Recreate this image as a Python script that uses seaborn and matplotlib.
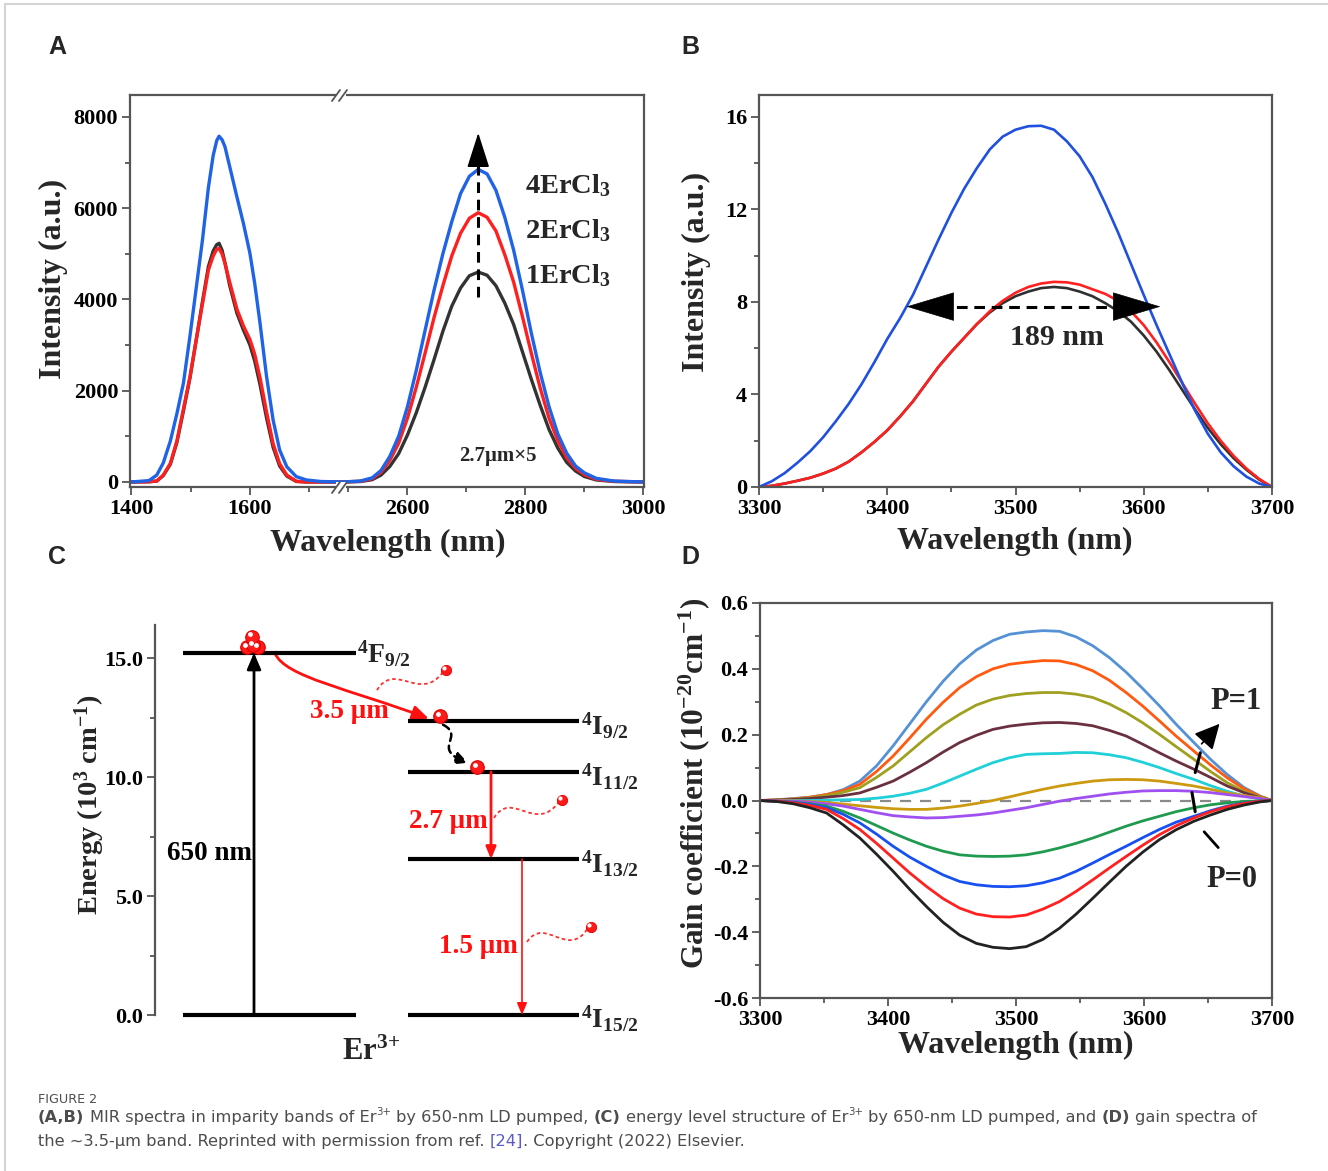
import numpy as np
import pandas as pd
import matplotlib
matplotlib.use('Agg')
import matplotlib.pyplot as plt
import seaborn as sns
from matplotlib.path import Path
from matplotlib.patches import FancyArrowPatch, PathPatch, Rectangle
from matplotlib.lines import Line2D
from matplotlib.ticker import MultipleLocator, FormatStrFormatter
from matplotlib.font_manager import FontProperties, findfont

# ---------------- data ----------------
# Panel A, 1.5 um band
wl_15 = [1400, 1430, 1443, 1454, 1466, 1477, 1488, 1499, 1510, 1520, 1530, 1538, 1544, 1548, 1553,
         1558, 1566, 1578, 1589, 1600, 1608, 1617, 1628, 1639, 1650, 1662, 1678, 1695, 1720, 1756]
a15_black = [0, 5, 20, 140, 390, 870, 1560, 2280, 3150, 3950, 4720, 5060, 5200, 5230, 5080,
             4800, 4300, 3700, 3330, 3000, 2650, 2130, 1400, 760, 350, 130, 12, 0, 0, 0]
a15_red = [0, 5, 20, 150, 409, 900, 1600, 2306, 3150, 3900, 4643, 4950, 5100, 5117, 5000,
           4789, 4370, 3790, 3420, 3120, 2800, 2280, 1530, 840, 400, 153, 15, 0, 0, 0]
a15_blue = [0, 30, 150, 416, 900, 1500, 2168, 3200, 4300, 5300, 6450, 7150, 7480, 7577, 7500,
            7343, 6905, 6248, 5665, 5008, 4351, 3475, 2306, 1358, 701, 335, 117, 44, 10, 0]
# Panel A, 2.7 um band
wl_27 = [2489, 2520, 2540, 2555, 2570, 2585, 2600, 2615, 2630, 2645, 2660, 2675, 2690, 2705, 2720,
         2735, 2750, 2765, 2780, 2795, 2810, 2825, 2840, 2855, 2870, 2885, 2900, 2920, 2950, 3001]
a27_black = [0, 10, 50, 150, 340, 620, 1030, 1520, 2080, 2680, 3300, 3850, 4250, 4520, 4600,
             4530, 4300, 3920, 3450, 2850, 2250, 1680, 1150, 740, 430, 240, 120, 45, 10, 0]
a27_red = [0, 15, 70, 210, 470, 850, 1400, 2080, 2830, 3600, 4300, 4950, 5450, 5780, 5900,
           5800, 5500, 4980, 4380, 3620, 2820, 2060, 1400, 900, 530, 300, 160, 60, 15, 0]
a27_blue = [0, 20, 90, 250, 560, 1000, 1650, 2450, 3330, 4200, 5000, 5700, 6320, 6700, 6850,
            6750, 6390, 5800, 5080, 4200, 3260, 2400, 1650, 1050, 630, 350, 200, 80, 20, 0]
samples_A = ['1ErCl3', '2ErCl3', '4ErCl3']
colors_A = ['#333333', '#ff1f1f', '#1f63e6']
labels_A = ['4ErCl$_3$', '2ErCl$_3$', '1ErCl$_3$']

# Panel B
wl_B = [3300, 3310, 3320, 3330, 3340, 3350, 3360, 3370, 3380, 3390, 3400, 3410, 3420, 3430,
        3440, 3450, 3460, 3470, 3480, 3490, 3500, 3510, 3520, 3530, 3540, 3550, 3560, 3570,
        3580, 3590, 3600, 3610, 3620, 3630, 3640, 3650, 3660, 3670, 3680, 3690, 3700]
b_black = [0, 0.05, 0.15, 0.27, 0.4, 0.58, 0.8, 1.1, 1.5, 1.95, 2.45, 3.05, 3.7, 4.45,
           5.2, 5.85, 6.45, 7.05, 7.55, 7.95, 8.25, 8.45, 8.6, 8.65, 8.6, 8.45, 8.25, 7.95,
           7.6, 7.15, 6.55, 5.85, 5.05, 4.2, 3.35, 2.55, 1.85, 1.25, 0.75, 0.32, 0]
b_red = [0, 0.05, 0.15, 0.27, 0.4, 0.58, 0.8, 1.1, 1.5, 1.95, 2.45, 3.05, 3.7, 4.45,
         5.2, 5.85, 6.45, 7.05, 7.6, 8.05, 8.4, 8.65, 8.8, 8.87, 8.85, 8.75, 8.55, 8.35,
         8.05, 7.6, 7.0, 6.25, 5.4, 4.5, 3.6, 2.75, 2.0, 1.35, 0.8, 0.35, 0]
b_blue = [0, 0.25, 0.6, 1.05, 1.55, 2.15, 2.85, 3.6, 4.45, 5.4, 6.4, 7.3, 8.3, 9.5,
          10.7, 11.85, 12.9, 13.8, 14.6, 15.15, 15.45, 15.6, 15.62, 15.45, 14.95, 14.3, 13.4, 12.25,
          11.0, 9.65, 8.3, 7.0, 5.75, 4.5, 3.3, 2.3, 1.5, 0.9, 0.45, 0.15, 0]
colors_B = ['#303030', '#ff2020', '#2050e0']
fwhm_text = '189 nm'

# Panel C (energy levels, 10^3 cm^-1)
level_names = ['$^{4}$F$_{9/2}$', '$^{4}$I$_{9/2}$', '$^{4}$I$_{11/2}$', '$^{4}$I$_{13/2}$', '$^{4}$I$_{15/2}$']
level_E = [15.22, 12.37, 10.22, 6.55, 0.0]
trans_labels = ['650 nm', '3.5 μm', '2.7 μm', '1.5 μm']

# Panel D
wl_D = [3300, 3313, 3326, 3339, 3352, 3365, 3378, 3391, 3404, 3417, 3430, 3443, 3456, 3469, 3482, 3495,
        3508, 3521, 3534, 3547, 3560, 3573, 3586, 3599, 3612, 3625, 3639, 3652, 3665, 3678, 3691, 3700]
gain_1 = [0, 0.002, 0.006, 0.01, 0.018, 0.033, 0.059, 0.105, 0.166, 0.233, 0.30, 0.362, 0.415, 0.457, 0.486, 0.505,
          0.512, 0.516, 0.514, 0.497, 0.47, 0.434, 0.39, 0.34, 0.288, 0.232, 0.176, 0.125, 0.079, 0.04, 0.013, 0]
gain_2 = [0, 0.002, 0.005, 0.01, 0.018, 0.03, 0.049, 0.088, 0.135, 0.19, 0.247, 0.298, 0.343, 0.376, 0.40, 0.414,
          0.42, 0.425, 0.424, 0.413, 0.394, 0.365, 0.328, 0.287, 0.242, 0.196, 0.15, 0.108, 0.069, 0.036, 0.012, 0]
gain_3 = [0, 0.001, 0.004, 0.008, 0.015, 0.025, 0.039, 0.07, 0.105, 0.148, 0.191, 0.23, 0.262, 0.29, 0.308, 0.319,
          0.325, 0.328, 0.328, 0.323, 0.313, 0.293, 0.267, 0.236, 0.201, 0.164, 0.125, 0.088, 0.054, 0.028, 0.01, 0]
gain_4 = [0, 0.001, 0.003, 0.006, 0.01, 0.015, 0.023, 0.04, 0.059, 0.086, 0.115, 0.147, 0.176, 0.198, 0.216, 0.226,
          0.232, 0.236, 0.237, 0.234, 0.227, 0.213, 0.196, 0.171, 0.145, 0.12, 0.095, 0.07, 0.044, 0.024, 0.008, 0]
gain_5 = [0, 0, 0, 0, 0.001, 0.002, 0.003, 0.007, 0.013, 0.022, 0.034, 0.053, 0.074, 0.095, 0.115, 0.13,
          0.14, 0.142, 0.143, 0.146, 0.145, 0.139, 0.13, 0.116, 0.10, 0.082, 0.064, 0.045, 0.028, 0.014, 0.005, 0]
gain_6 = [0, 0, -0.001, -0.003, -0.006, -0.011, -0.016, -0.021, -0.025, -0.027, -0.027, -0.023, -0.017, -0.009, 0.0, 0.011,
          0.023, 0.034, 0.044, 0.052, 0.059, 0.063, 0.064, 0.063, 0.059, 0.052, 0.044, 0.034, 0.023, 0.015, 0.008, 0]
gain_7 = [0, -0.001, -0.002, -0.005, -0.01, -0.017, -0.027, -0.037, -0.046, -0.05, -0.053, -0.052, -0.048, -0.044, -0.038, -0.03,
          -0.022, -0.012, -0.002, 0.006, 0.013, 0.02, 0.025, 0.029, 0.03, 0.03, 0.028, 0.024, 0.018, 0.012, 0.006, 0]
gain_8 = [0, -0.002, -0.005, -0.01, -0.017, -0.033, -0.053, -0.076, -0.099, -0.12, -0.139, -0.154, -0.165, -0.169, -0.17, -0.169,
          -0.165, -0.156, -0.144, -0.13, -0.114, -0.096, -0.078, -0.062, -0.048, -0.034, -0.022, -0.013, -0.007, -0.003, -0.001, 0]
gain_9 = [0, -0.002, -0.006, -0.012, -0.022, -0.042, -0.068, -0.102, -0.139, -0.172, -0.2, -0.226, -0.246, -0.256, -0.261, -0.262,
          -0.259, -0.25, -0.236, -0.215, -0.19, -0.164, -0.139, -0.113, -0.088, -0.066, -0.048, -0.031, -0.017, -0.008, -0.002, 0]
gain_10 = [0, -0.002, -0.007, -0.015, -0.027, -0.055, -0.088, -0.13, -0.175, -0.22, -0.261, -0.298, -0.327, -0.345, -0.353, -0.354,
           -0.348, -0.33, -0.307, -0.276, -0.241, -0.205, -0.17, -0.136, -0.104, -0.077, -0.053, -0.034, -0.019, -0.009, -0.002, 0]
gain_11 = [0, -0.003, -0.01, -0.022, -0.038, -0.074, -0.114, -0.163, -0.215, -0.27, -0.322, -0.37, -0.409, -0.434, -0.446, -0.45,
           -0.444, -0.422, -0.388, -0.345, -0.297, -0.248, -0.2, -0.157, -0.119, -0.089, -0.063, -0.044, -0.027, -0.014, -0.004, 0]
gain = [gain_1, gain_2, gain_3, gain_4, gain_5, gain_6, gain_7, gain_8, gain_9, gain_10, gain_11]
colors_D = ['#5591d5', '#ff5a10', '#a0a020', '#6a3040', '#20d0d8', '#cc9a10',
            '#a050f0', '#209a50', '#1850f0', '#ff2020', '#222222']

# ---------------- style ----------------
sns.set_style('ticks')
plt.rcParams.update({
    'font.family': ['Liberation Serif', 'DejaVu Serif'],
    'font.weight': 'bold',
    'axes.unicode_minus': False,
    'mathtext.fontset': 'custom',
    'mathtext.rm': 'Liberation Serif:bold',
    'mathtext.it': 'Liberation Serif:italic:bold',
    'mathtext.bf': 'Liberation Serif:bold',
    'mathtext.default': 'rm',
    'axes.linewidth': 1.6,
})

W, H = 1328, 1171
fig = plt.figure(figsize=(W / 100, H / 100), dpi=100)
fig.patch.set_facecolor('white')


def add_ax(l, t, r, b):
    return fig.add_axes([l / W, 1 - b / H, (r - l) / W, (b - t) / H])


SP = '#555555'
TICK_FS = 16
LAB_FS = 23


def style(ax):
    for s in ax.spines.values():
        s.set_color(SP)
        s.set_linewidth(1.6)
    ax.tick_params(which='both', direction='out', top=False, right=False, color=SP,
                   labelsize=TICK_FS, width=1.3, labelcolor='black', pad=2.5)
    ax.tick_params(which='major', length=6)
    ax.tick_params(which='minor', length=3.5)
    ax.set_facecolor('none')


def long_df(x, names, values):
    return pd.concat([pd.DataFrame({'x': x, 'y': v, 'series': n}) for n, v in zip(names, values)],
                     ignore_index=True)


# ---------------- Panel A ----------------
axA1 = add_ax(130, 95, 342, 487)
axA2 = add_ax(342, 95, 644, 487)
dfA1 = long_df(wl_15, samples_A, [a15_black, a15_red, a15_blue])
dfA2 = long_df(wl_27, samples_A, [a27_black, a27_red, a27_blue])
for ax, df in [(axA1, dfA1), (axA2, dfA2)]:
    sns.lineplot(data=df, x='x', y='y', hue='series', hue_order=samples_A, palette=colors_A,
                 estimator=None, sort=False, legend=False, linewidth=2.4, ax=ax)
    style(ax)
    ax.set_ylim(-110, 8480)
    ax.set_xlabel('')
    ax.set_ylabel('')
axA1.set_xlim(1398, 1755)
axA2.set_xlim(2489, 3001)
axA1.spines['right'].set_visible(False)
axA2.spines['left'].set_visible(False)
axA2.tick_params(axis='y', which='both', left=False, labelleft=False)
axA1.set_xticks([1400, 1600])
axA1.set_xticks([1500, 1700], minor=True)
axA2.set_xticks([2600, 2800, 3000])
axA2.set_xticks([2500, 2700, 2900], minor=True)
axA1.yaxis.set_major_locator(MultipleLocator(2000))
axA1.yaxis.set_minor_locator(MultipleLocator(1000))

# arrow over the 2.7 band
axA2.plot([2720, 2720], [4050, 7250], color='black', lw=2.2, ls=(0, (3.5, 2.2)))
axA2.annotate('', xy=(2720, 7650), xytext=(2720, 7150),
              arrowprops=dict(arrowstyle='-|>,head_length=1.0,head_width=0.32', mutation_scale=22,
                              color='black', lw=1.2, shrinkA=0, shrinkB=0))
for lab, yb in zip(labels_A, [6330, 5340, 4360]):
    axA2.text(2799, yb, lab, fontsize=20.5, ha='left', va='baseline')
axA2.text(2753, 560, '2.7μm×5', fontsize=15, ha='center', va='center')

# axis break marks
for yb in [95, 487]:
    fig.add_artist(Rectangle(((336) / W, 1 - (yb + 5) / H), 10 / W, 10 / H, transform=fig.transFigure,
                             facecolor='white', edgecolor='none', zorder=5))
    for dx in [0, 7]:
        fig.add_artist(Line2D([(332 + dx) / W, (340 + dx) / W], [1 - (yb + 6) / H, 1 - (yb - 5) / H],
                              transform=fig.transFigure, color=SP, lw=1.3, zorder=6))

fig.text(388 / W, 1 - 543 / H, 'Wavelength (nm)', fontsize=LAB_FS, ha='center', va='center')
fig.text(53 / W, 1 - 279 / H, 'Intensity (a.u.)', fontsize=LAB_FS, ha='center', va='center', rotation=90)

# ---------------- Panel B ----------------
axB = add_ax(759, 95, 1272, 487)
dfB = long_df(wl_B, samples_A, [b_black, b_red, b_blue])
sns.lineplot(data=dfB, x='x', y='y', hue='series', hue_order=samples_A, palette=colors_B,
             estimator=None, sort=False, legend=False, linewidth=1.9, ax=axB)
style(axB)
axB.set_xlim(3300, 3700)
axB.set_ylim(0, 16.95)
axB.set_xlabel('')
axB.set_ylabel('')
axB.xaxis.set_major_locator(MultipleLocator(100))
axB.xaxis.set_minor_locator(MultipleLocator(50))
axB.yaxis.set_major_locator(MultipleLocator(4))
axB.yaxis.set_minor_locator(MultipleLocator(2))
axB.plot([3440, 3588], [7.8, 7.8], color='black', lw=2.2, ls=(0, (3.5, 2.2)))
for tip, tail in [(3415, 3445), (3613, 3583)]:
    axB.annotate('', xy=(tip, 7.8), xytext=(tail, 7.8),
                 arrowprops=dict(arrowstyle='-|>,head_length=1.5,head_width=0.45', mutation_scale=22,
                                 color='black', lw=0.5, shrinkA=0, shrinkB=0))
axB.text(3532, 6.45, fwhm_text, fontsize=21.5, ha='center', va='center')
fig.text(1015 / W, 1 - 541 / H, 'Wavelength (nm)', fontsize=LAB_FS, ha='center', va='center')
fig.text(696 / W, 1 - 272 / H, 'Intensity (a.u.)', fontsize=LAB_FS, ha='center', va='center', rotation=90)

# ---------------- Panel C ----------------
axC = add_ax(155, 600, 680, 1030)
axC.set_xlim(155, 680)
axC.set_ylim(-0.63, 17.44)
style(axC)
for s in ['top', 'right', 'bottom']:
    axC.spines[s].set_visible(False)
axC.spines['left'].set_bounds(0, 16.39)
axC.tick_params(axis='x', which='both', bottom=False, labelbottom=False)
axC.yaxis.set_major_locator(MultipleLocator(5))
axC.yaxis.set_minor_locator(MultipleLocator(2.5))
axC.yaxis.set_major_formatter(FormatStrFormatter('%.1f'))
fig.text(90 / W, 1 - 805 / H, 'Energy (10$^{3}$ cm$^{-1}$)', fontsize=20.5, ha='center', va='center',
         rotation=90)

# level lines
axC.hlines([level_E[0], level_E[4]], 183, 356, color='black', lw=3)
axC.hlines(level_E[1:], 408, 579, color='black', lw=3)
label_x = [357, 581, 581, 581, 581]
label_base = [14.8, 11.8, 9.62, 5.97, -0.55]
for name, lx, lb in zip(level_names, label_x, label_base):
    axC.text(lx, lb, name, fontsize=20, ha='left', va='baseline')
axC.text(342, -1.89, 'Er$^{3}$$^{+}$', fontsize=22, ha='left', va='baseline')

# pump arrow
axC.annotate('', xy=(254, level_E[0]), xytext=(254, level_E[4]),
             arrowprops=dict(arrowstyle='-|>,head_length=0.7,head_width=0.3', mutation_scale=14,
                             color='black', lw=2.0, shrinkA=0, shrinkB=0))
axC.text(252, 6.5, trans_labels[0], fontsize=19.5, ha='right', va='baseline', color='black')

# 3.5 um curved arrow (cubic path)
arc = Path([(275, 15.2), (285, 14.2), (350, 13.7), (429, 12.45)],
           [Path.MOVETO, Path.CURVE4, Path.CURVE4, Path.CURVE4])
axC.add_patch(FancyArrowPatch(path=arc, arrowstyle='-|>,head_length=0.7,head_width=0.3',
                              mutation_scale=14, color='#ff1010', lw=2.0))
axC.text(310, 12.48, trans_labels[1], fontsize=19.5, ha='left', va='baseline', color='#ff1010')

# non-radiative dashed wiggle
wig = Path([(443, 12.2), (466, 11.7), (430, 11.2), (468, 10.6)],
           [Path.MOVETO, Path.CURVE4, Path.CURVE4, Path.CURVE4])
axC.add_patch(FancyArrowPatch(path=wig, arrowstyle='-|>,head_length=0.6,head_width=0.3',
                              mutation_scale=12, color='black', lw=1.8, linestyle=(0, (3, 2))))

# 2.7 and 1.5 arrows
axC.annotate('', xy=(491, level_E[3]), xytext=(491, level_E[2]),
             arrowprops=dict(arrowstyle='-|>,head_length=0.6,head_width=0.25', mutation_scale=12,
                             color='#ff1010', lw=2.0, shrinkA=0, shrinkB=0))
axC.text(488, 7.86, trans_labels[2], fontsize=19.5, ha='right', va='baseline', color='#ff1010')
axC.annotate('', xy=(522, level_E[4]), xytext=(522, level_E[3]),
             arrowprops=dict(arrowstyle='-|>,head_length=0.6,head_width=0.25', mutation_scale=12,
                             color='#ff1010', lw=1.2, shrinkA=0, shrinkB=0))
axC.text(518, 2.6, trans_labels[3], fontsize=19.5, ha='right', va='baseline', color='#ff1010')

# photon waves
waves = [[(377, 13.65), (395, 14.9), (420, 13.1), (443, 14.41)],
         [(494, 8.28), (512, 9.5), (535, 7.6), (559, 8.95)],
         [(527, 3.07), (545, 4.2), (568, 2.3), (588, 3.66)]]
for wv in waves:
    axC.add_patch(PathPatch(Path(wv, [Path.MOVETO, Path.CURVE4, Path.CURVE4, Path.CURVE4]),
                            facecolor='none', edgecolor='#ff3030', lw=1.3, linestyle=(0, (2, 1.6))))
# electrons
big = [(247, 15.46), (258, 15.46), (253, 15.55), (252, 15.9), (440, 12.56), (477, 10.42)]
small = [(446, 14.5), (562, 9.03), (591, 3.7)]
axC.scatter([p[0] for p in big], [p[1] for p in big], s=95, color='#ff1a1a', edgecolor='#e00000',
            linewidth=0.8, zorder=5)
axC.scatter([p[0] - 2 for p in big], [p[1] + 0.1 for p in big], s=6, color='white', zorder=6)
axC.scatter([p[0] for p in small], [p[1] for p in small], s=55, color='#ff1a1a', edgecolor='#e00000',
            linewidth=0.6, zorder=5)
axC.scatter([p[0] - 1.5 for p in small], [p[1] + 0.08 for p in small], s=4, color='white', zorder=6)

# ---------------- Panel D ----------------
axD = add_ax(760, 603, 1272, 998)
names_D = ['g%d' % (i + 1) for i in range(len(gain))]
dfD = long_df(wl_D, names_D, gain)
axD.plot([3300, 3700], [0, 0], color='#8a8a8a', lw=1.6, ls=(0, (5, 4)), zorder=1.5)
sns.lineplot(data=dfD, x='x', y='y', hue='series', hue_order=names_D, palette=colors_D,
             estimator=None, sort=False, legend=False, linewidth=2.0, ax=axD)
style(axD)
axD.set_xlim(3300, 3700)
axD.set_ylim(-0.6, 0.6)
axD.set_xlabel('')
axD.set_ylabel('')
axD.xaxis.set_major_locator(MultipleLocator(100))
axD.xaxis.set_minor_locator(MultipleLocator(50))
axD.yaxis.set_major_locator(MultipleLocator(0.2))
axD.yaxis.set_minor_locator(MultipleLocator(0.1))
axD.yaxis.set_major_formatter(FormatStrFormatter('%.1f'))
axD.plot([3640, 3644], [0.085, 0.145], color='black', lw=2.2)
axD.annotate('', xy=(3659, 0.233), xytext=(3645, 0.172),
             arrowprops=dict(arrowstyle='-|>,head_length=1.1,head_width=0.55', mutation_scale=14,
                             color='black', lw=1.2, shrinkA=0, shrinkB=0))
axD.plot([3637.5, 3640], [0.024, -0.034], color='black', lw=2.2)
axD.plot([3647, 3658], [-0.095, -0.143], color='black', lw=2.0)
axD.text(3672, 0.30, 'P=1', fontsize=22, ha='center', va='center')
axD.text(3669, -0.24, 'P=0', fontsize=22, ha='center', va='center')
fig.text(1016 / W, 1 - 1045 / H, 'Wavelength (nm)', fontsize=LAB_FS, ha='center', va='center')
fig.text(694 / W, 1 - 783 / H, 'Gain coefficient (10$^{-20}$cm$^{-1}$)', fontsize=22.5,
         ha='center', va='center', rotation=90)

# ---------------- panel letters ----------------
for lab, x, y in [('A', 57, 47), ('B', 690, 47), ('C', 57, 557), ('D', 690, 557)]:
    fig.text(x / W, 1 - y / H, lab, family='Liberation Sans', weight='bold', fontsize=18,
             ha='center', va='center')

# ---------------- frame ----------------
fig.add_artist(Line2D([5 / W, 1], [1 - 4 / H, 1 - 4 / H], transform=fig.transFigure, color='#d4d4d4', lw=1.5))
fig.add_artist(Line2D([5 / W, 5 / W], [0, 1 - 4 / H], transform=fig.transFigure, color='#d4d4d4', lw=1.5))

# ---------------- caption ----------------
renderer = fig.canvas.get_renderer()


def pick_family():
    for fam in ['Noto Sans', 'Open Sans', 'Lato', 'Roboto', 'Liberation Sans']:
        try:
            reg = findfont(FontProperties(family=fam), fallback_to_default=False)
            bld = findfont(FontProperties(family=fam, weight='bold'), fallback_to_default=False)
        except Exception:
            continue
        if bld != reg and 'bold' in bld.lower():
            return fam
    return 'DejaVu Sans'


cap_family = [pick_family(), 'DejaVu Sans']


def fprop(size, weight='normal'):
    return FontProperties(family=cap_family, size=size, weight=weight)


def twidth(s, prop):
    a = renderer.get_text_width_height_descent('|' + s + '|', prop, ismath=False)[0]
    b = renderer.get_text_width_height_descent('||', prop, ismath=False)[0]
    return a - b


CAP_C = '#4d4d4d'
LINK_C = '#5b5bc8'


def run_props(kind, size):
    if kind == 'bold':
        return fprop(size, 'bold'), CAP_C, 0
    if kind == 'sup':
        return fprop(size * 0.62), CAP_C, size * 1.389 * 0.42
    if kind == 'link':
        return fprop(size), LINK_C, 0
    return fprop(size), CAP_C, 0


def runs_width(runs, size):
    return sum(twidth(s, run_props(k, size)[0]) for s, k in runs)


def draw_runs(runs, x0, base, size):
    x = x0
    for s, k in runs:
        prop, col, rise = run_props(k, size)
        body = s.lstrip(' ')
        lead = len(s) - len(body)
        if lead:
            x += twidth(' ' * lead, prop)
        fig.text(x / W, 1 - (base - rise) / H, body, fontproperties=prop, color=col,
                 ha='left', va='baseline')
        x += twidth(body, prop)


line1 = [('(A,B)', 'bold'), (' MIR spectra in imparity bands of Er', 'reg'), ('3+', 'sup'),
         (' by 650-nm LD pumped, ', 'reg'), ('(C)', 'bold'), (' energy level structure of Er', 'reg'),
         ('3+', 'sup'), (' by 650-nm LD pumped, and ', 'reg'), ('(D)', 'bold'), (' gain spectra of', 'reg')]
line2 = [('the ~3.5-μm band. Reprinted with permission from ref. ', 'reg'), ('[24]', 'link'),
         ('. Copyright (2022) Elsevier.', 'reg')]
w12 = runs_width(line1, 12)
cap_size = 12 * (1217 / w12)
draw_runs([('FIGURE 2', 'reg')], 38, 1103, cap_size * 0.78)
draw_runs(line1, 38, 1122, cap_size)
draw_runs(line2, 38, 1146, cap_size)

fig.savefig('out.png', dpi=100, facecolor='white')
